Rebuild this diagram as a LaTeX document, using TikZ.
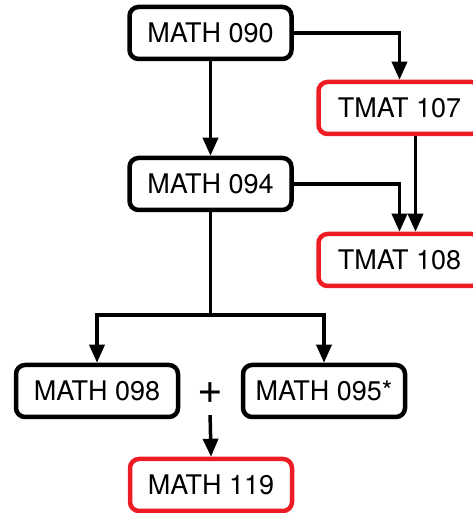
\documentclass[tikz,border=0pt]{standalone}
\usepackage{fontspec}
\setmainfont{TeX Gyre Heros}
\usetikzlibrary{arrows.meta}
\definecolor{boxred}{RGB}{237,28,36}
\begin{document}
\begin{tikzpicture}[x=1pt,y=1pt,
  course/.style={draw=black, line width=4.5pt, rounded corners=9pt, minimum width=162pt, minimum height=52pt, inner sep=0pt, font=\fontsize{27}{29}\selectfont, fill=white},
  target/.style={course, draw=boxred},
  link/.style={line width=3.5pt, -{Triangle[length=18pt,width=15pt]}},
  plain/.style={line width=3.5pt, line cap=rect}]
\useasboundingbox (0,0) rectangle (472,513);
\node[course] (m090) at (210.5,480) {MATH 090};
\node[target] (t107) at (399.5,405) {TMAT 107};
\node[course] (m094) at (210.5,329) {MATH 094};
\node[target] (t108) at (399.5,253) {TMAT 108};
\node[course] (m098) at (97,122) {MATH 098};
\node[course] (m095) at (324,122) {MATH 095*};
\node[font=\fontsize{44}{46}\selectfont, inner sep=0pt, minimum height=36pt] (plus) at (210,120) {+};
\node[target] (m119) at (211,28) {MATH 119};
\coordinate (split) at (210.5,198);
\draw[link] (m090.east) -| (t107.north);
\draw[link] (m090.south) -- (m094.north);
\draw[link] (m094.east) -| (t108.north);
\draw[link] ([xshift=16pt]t107.south) -- ([xshift=16pt]t108.north);
\draw[plain] (m094.south) -- (split);
\draw[link] (split) -| (m098.north);
\draw[link] (split) -| (m095.north);
\draw[link, shorten <=4pt] (plus.south) -- (m119.north);
\end{tikzpicture}
\end{document}
